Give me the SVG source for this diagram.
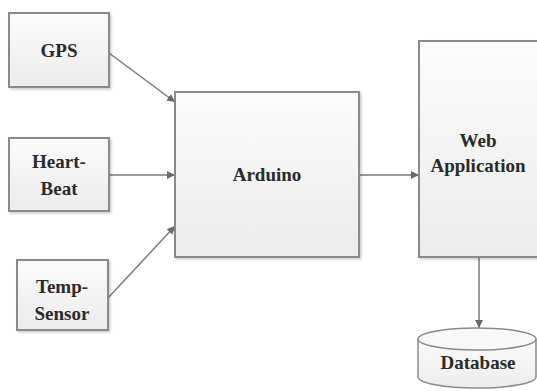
<svg xmlns="http://www.w3.org/2000/svg" width="537" height="391" viewBox="0 0 537 391">
<style>
.box{fill:url(#g);stroke:#8a8a8a;stroke-width:2;filter:url(#s)}
.t{font-family:"Liberation Serif","DejaVu Serif","Times New Roman",serif;font-weight:bold;font-size:19px;fill:#2a2a2a;text-anchor:middle}
.c{stroke:#7a7a7a;stroke-width:1.5;fill:none;marker-end:url(#a)}
</style>
<defs>
<linearGradient id="g" x1="0" y1="0" x2="0" y2="1"><stop offset="0" stop-color="#fbfbfb"/><stop offset="1" stop-color="#ececec"/></linearGradient>
<filter id="s" x="-10%" y="-10%" width="130%" height="130%"><feDropShadow dx="1.5" dy="1.5" stdDeviation="1" flood-color="#000" flood-opacity="0.2"/></filter>
<marker id="a" viewBox="0 0 10 10" refX="10" refY="5" markerWidth="8" markerHeight="8" markerUnits="userSpaceOnUse" orient="auto"><path d="M0,0 L10,5 L0,10 z" fill="#6a6a6a"/></marker>
</defs>
<rect width="537" height="391" fill="#fff"/>
<g id="connectors">
<line class="c" x1="109" y1="53" x2="175" y2="102"/>
<line class="c" x1="109" y1="175" x2="175" y2="175"/>
<line class="c" x1="108" y1="298" x2="175" y2="226"/>
<line class="c" x1="359" y1="175" x2="419" y2="175"/>
<line class="c" x1="479" y1="257" x2="479" y2="328"/>
</g>
<g id="gps"><rect class="box" x="9" y="13" width="100" height="74"/><text class="t" x="59" y="57">GPS</text></g>
<g id="heartbeat"><rect class="box" x="9" y="138" width="100" height="73"/><text class="t" x="59" y="168">Heart-</text><text class="t" x="59" y="195">Beat</text></g>
<g id="tempsensor"><rect class="box" x="17" y="260" width="91" height="70"/><text class="t" x="62" y="293">Temp-</text><text class="t" x="62" y="320">Sensor</text></g>
<g id="arduino"><rect class="box" x="175" y="92" width="184" height="165"/><text class="t" x="267" y="181">Arduino</text></g>
<g id="webapp"><rect class="box" x="419" y="41" width="125" height="216"/><text class="t" x="478" y="147">Web</text><text class="t" x="478" y="172">Application</text></g>
<g id="database"><path d="M418,339 L418,377 A59,11 0 0 0 536,377 L536,339" fill="url(#g)" stroke="#8a8a8a" stroke-width="1.5"/><ellipse cx="477" cy="339" rx="59" ry="11" fill="#f8f8f8" stroke="#8a8a8a" stroke-width="1.5"/><text class="t" x="478" y="369">Database</text></g>
</svg>
